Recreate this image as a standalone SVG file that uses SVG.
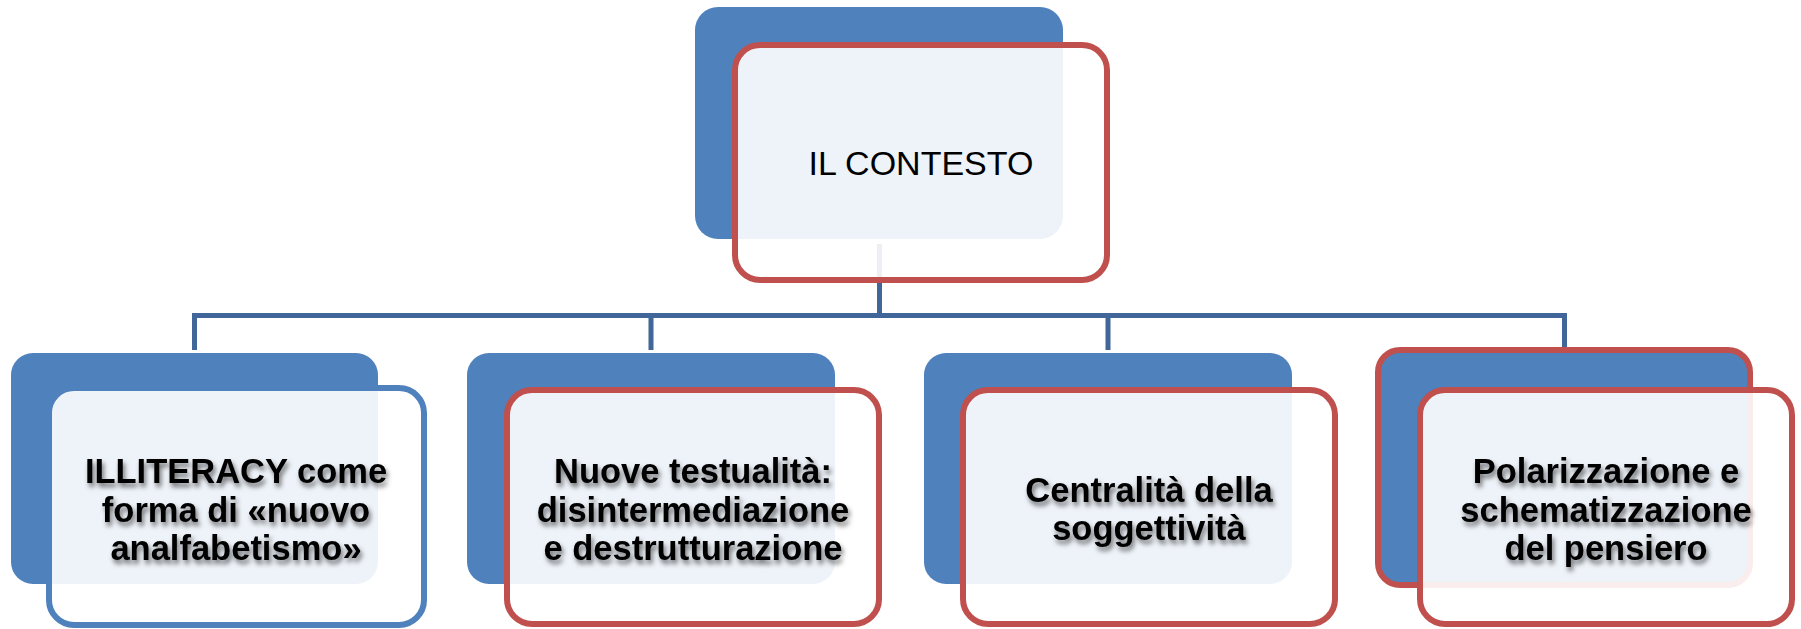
<svg xmlns="http://www.w3.org/2000/svg" width="1801" height="629" viewBox="0 0 1801 629">
<defs>
<style>
.back{fill:#4F81BD;}
.front{fill:#ffffff;fill-opacity:0.9;stroke-width:6;}
.red{stroke:#C0504D;}
.blue{stroke:#4F81BD;}
.conn{stroke:#41679A;stroke-width:5;fill:none;}
.lbl{font-family:"Liberation Sans",Arial,sans-serif;font-weight:bold;font-size:34.5px;fill:#000;text-anchor:middle;filter:url(#sh);}
.top{font-family:"Liberation Sans",Arial,sans-serif;font-size:34px;fill:#000;text-anchor:middle;}
</style>
<filter id="sh" x="-10%" y="-30%" width="120%" height="160%">
<feDropShadow dx="2" dy="4" stdDeviation="2.5" flood-color="#000" flood-opacity="0.55"/>
</filter>
</defs>
<rect width="1801" height="629" fill="#ffffff"/>
<g id="connectors">
<path class="conn" d="M879.5 244 V315.5 M194.5 350 V315.5 H1564.5 V350 M651 315.5 V350 M1108 315.5 V350"/>
</g>
<g id="node-top">
<rect class="back" x="695" y="7" width="368" height="232" rx="23"/>
<rect class="front red" x="735" y="45" width="372" height="235" rx="25"/>
<text class="top" x="921" y="175">IL CONTESTO</text>
</g>
<g id="node-1">
<rect class="back" x="11" y="353" width="367" height="231" rx="22"/>
<rect class="front blue" x="49" y="388" width="375" height="237" rx="25"/>
<text class="lbl" x="236" y="483">ILLITERACY come</text>
<text class="lbl" x="236" y="521.5">forma di «nuovo</text>
<text class="lbl" x="236" y="559.5">analfabetismo»</text>
</g>
<g id="node-2">
<rect class="back" x="467" y="353" width="368" height="231" rx="22"/>
<rect class="front red" x="507" y="390" width="372" height="234" rx="25"/>
<text class="lbl" x="693" y="483">Nuove testualità:</text>
<text class="lbl" x="693" y="521.5">disintermediazione</text>
<text class="lbl" x="693" y="559.5">e destrutturazione</text>
</g>
<g id="node-3">
<rect class="back" x="924" y="353" width="368" height="231" rx="22"/>
<rect class="front red" x="963" y="390" width="372" height="234" rx="25"/>
<text class="lbl" x="1149" y="501.5">Centralità della</text>
<text class="lbl" x="1149" y="540">soggettività</text>
</g>
<g id="node-4">
<rect class="back red" x="1378" y="350" width="372" height="235" rx="22" stroke-width="6"/>
<rect class="front red" x="1420" y="390" width="372" height="234" rx="25"/>
<text class="lbl" x="1606" y="483">Polarizzazione e</text>
<text class="lbl" x="1606" y="521.5">schematizzazione</text>
<text class="lbl" x="1606" y="559.5">del pensiero</text>
</g>
</svg>
